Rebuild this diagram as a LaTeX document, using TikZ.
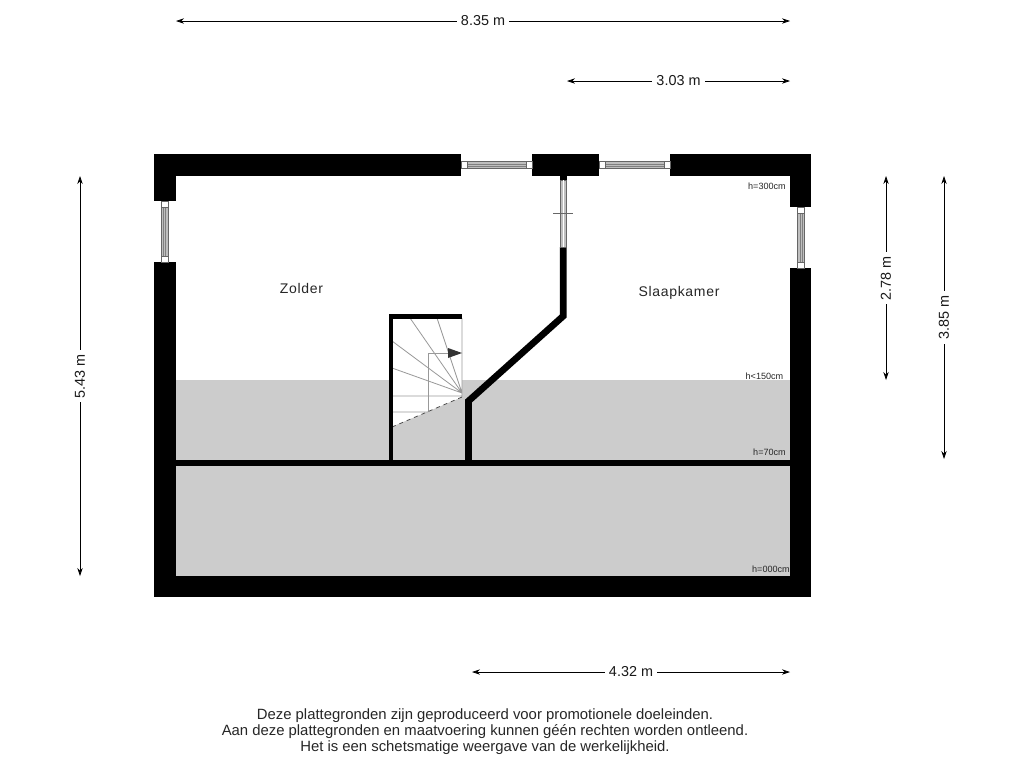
\documentclass[tikz,border=0pt]{standalone}
\usepackage{fontspec}
\setmainfont{Liberation Sans}
\usetikzlibrary{arrows.meta}

\begin{document}
\begin{tikzpicture}[x=0.75pt,y=-0.75pt,
            every node/.style={inner sep=1pt,text=black!85},
            wall/.style = {fill=black,draw=none},
            floorline/.style = {line width=5pt,draw=black,miter limit=10},
            lowroof/.style = {fill=black!20,draw=none},
            pane/.style = {fill=black!25,draw=black!60,line width=0.4pt},
            paneend/.style = {fill=white,draw=black!60,line width=0.4pt},
            glassline/.style = {draw=black!50,line width=0.3pt},
            stepline/.style = {draw=black!40,line width=0.6pt},
            measure/.style = {<->,>={Stealth[length=6pt,width=4pt]},draw=black,line width=0.5pt},
            dimlabel/.style = {font=\fontsize{10.8}{12}\selectfont,fill=white,inner xsep=3pt,text=black!90},
            roomlabel/.style = {font=\fontsize{10.5}{12}\selectfont\addfontfeature{LetterSpace=5}},
            heightlabel/.style = {font=\fontsize{6.8}{8}\selectfont,anchor=east,inner sep=0pt},
            ]

            \useasboundingbox (0,0) rectangle (1024,768);

            % sloped part of the roof
            \fill[lowroof] (176,380) rectangle (790,576);

            % stairs
            \fill[white] (391,316) -- (462,316) -- (462,397) -- (391,427) -- cycle;
            \draw[stepline] (462,393) -- (437,318) (462,393) -- (410,318)
                (462,393) -- (392,341) (462,393) -- (392,368)
                (392,396) -- (462,396) (392,412) -- (428,412)
                (462,318) -- (462,397);
            \draw[stepline] (428,412) -- (428,353) -- (450,353);
            \draw[black!70,dashed,line width=0.6pt] (392,427) -- (462,397);
            \fill[black!80] (448,348) -- (462,353) -- (448,358) -- cycle;

            % outer walls
            \fill[wall] (154,154) rectangle (461,176);
            \fill[wall] (532,154) rectangle (599,176);
            \fill[wall] (670,154) rectangle (811,176);
            \fill[wall] (154,154) rectangle (176,201);
            \fill[wall] (154,262) rectangle (176,597);
            \fill[wall] (790,154) rectangle (811,207);
            \fill[wall] (790,268) rectangle (811,597);
            \fill[wall] (154,576) rectangle (811,597);

            % inner walls
            \draw[floorline] (176,463) -- (790,463);
            \draw[floorline,line width=3pt] (391,460) -- (391,316);
            \fill[wall] (389,314) rectangle (462,318.5);
            \draw[floorline] (468.5,460) -- (468.5,401) -- (563.3,316) -- (563.3,247);
            \fill[wall] (560,176) rectangle (566.7,180);

            % windows
            \draw[pane] (467,161.7) rectangle (526,168.3);
            \draw[glassline] (467,164) -- (526,164) (467,166) -- (526,166);
            \draw[paneend] (461,161.7) rectangle (467,168.3);
            \draw[paneend] (526,161.7) rectangle (532,168.3);
            \draw[pane] (605,161.7) rectangle (664,168.3);
            \draw[glassline] (605,164) -- (664,164) (605,166) -- (664,166);
            \draw[paneend] (599,161.7) rectangle (605,168.3);
            \draw[paneend] (664,161.7) rectangle (670,168.3);
            \draw[pane] (161.3,207) rectangle (167.9,256);
            \draw[glassline] (163.6,207) -- (163.6,256) (165.6,207) -- (165.6,256);
            \draw[paneend] (161.3,201) rectangle (167.9,207);
            \draw[paneend] (161.3,256) rectangle (167.9,262);
            \draw[pane] (797.7,213) rectangle (804.3,262);
            \draw[glassline] (800,213) -- (800,262) (802,213) -- (802,262);
            \draw[paneend] (797.7,207) rectangle (804.3,213);
            \draw[paneend] (797.7,262) rectangle (804.3,268);

            % door
            \draw[pane] (560,180) rectangle (566.7,247);
            \draw[draw=white,line width=0.7pt] (563.3,180) -- (563.3,247);
            \draw[black!60,line width=0.4pt] (553.3,213.7) -- (572.7,213.7);

            % rooms
            \node[roomlabel] (zolder) at (301.5,288) {Zolder};
            \node[roomlabel] (slaapkamer) at (679,293) {Slaapkamer};

            % heights
            \node[heightlabel] (h300) at (786,186) {h=300cm};
            \node[heightlabel] (h150) at (783.5,376) {h<150cm};
            \node[heightlabel] (h70) at (786,452) {h=70cm};
            \node[heightlabel] (h000) at (790,569) {h=000cm};

            % measurements
            \coordinate (top_l) at (176,21);
            \coordinate (top_r) at (790,21);
            \coordinate (win_l) at (567,81);
            \coordinate (win_r) at (790,81);
            \coordinate (left_t) at (80,176);
            \coordinate (left_b) at (80,576);
            \coordinate (mid_t) at (886,176);
            \coordinate (mid_b) at (886,380);
            \coordinate (far_t) at (944,176);
            \coordinate (far_b) at (944,459);
            \coordinate (bot_l) at (472,672);
            \coordinate (bot_r) at (790,672);
            \draw[measure] (top_l) -- (top_r) node[midway,dimlabel] (dim_top) {8.35 m};
            \draw[measure] (win_l) -- (win_r) node[midway,dimlabel] (dim_win) {3.03 m};
            \draw[measure] (left_t) -- (left_b) node[midway,dimlabel,rotate=90] (dim_left) {5.43 m};
            \draw[measure] (mid_t) -- (mid_b) node[midway,dimlabel,rotate=90] (dim_mid) {2.78 m};
            \draw[measure] (far_t) -- (far_b) node[midway,dimlabel,rotate=90] (dim_far) {3.85 m};
            \draw[measure] (bot_l) -- (bot_r) node[midway,dimlabel] (dim_bot) {4.32 m};

            % disclaimer
            \node[font=\fontsize{11.15}{12}\selectfont,align=center] (disclaimer) at (485,732) {Deze plattegronden zijn geproduceerd voor promotionele doeleinden.\\[0pt]Aan deze plattegronden en maatvoering kunnen géén rechten worden ontleend.\\[0pt]Het is een schetsmatige weergave van de werkelijkheid.};
\end{tikzpicture}
\end{document}
